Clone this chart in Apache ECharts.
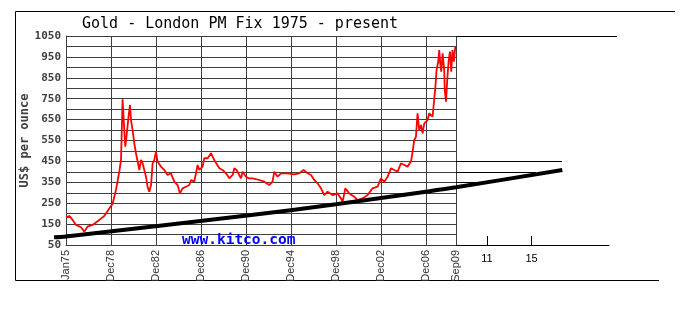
<!DOCTYPE html>
<html>
<head>
<meta charset="utf-8">
<script src="https://cdn.jsdelivr.net/npm/echarts@6/dist/echarts.min.js"></script>
<style>
  html, body { margin: 0; padding: 0; background: #fff; }
  #chart { width: 695px; height: 331px; }
</style>
</head>
<body>
<div id="chart"></div>
<script>
// London PM fix, US$ per ounce (decimal year, price)
const BASE_YEAR = 1975;
const goldYears = [
  1975.00, 1975.29, 1975.59, 1975.89, 1976.33, 1976.63, 1976.92, 1977.36, 1977.96, 1978.40,
  1978.85, 1979.14, 1979.44, 1979.74, 1979.89, 1980.03, 1980.18, 1980.27, 1980.39, 1980.56,
  1980.69, 1980.78, 1980.92, 1981.07, 1981.22, 1981.36, 1981.52, 1981.67, 1981.81, 1981.96,
  1982.11, 1982.25, 1982.40, 1982.56, 1982.70, 1982.85, 1983.00, 1983.14, 1983.44, 1983.74,
  1984.03, 1984.33, 1984.63, 1984.92, 1985.13, 1985.36, 1985.67, 1985.96, 1986.11, 1986.40,
  1986.70, 1986.85, 1987.14, 1987.29, 1987.59, 1987.89, 1988.03, 1988.18, 1988.33, 1988.63,
  1988.92, 1989.22, 1989.52, 1989.81, 1989.96, 1990.16, 1990.40, 1990.56, 1990.70, 1991.00,
  1991.23, 1991.59, 1992.18, 1992.63, 1993.07, 1993.36, 1993.52, 1993.81, 1994.11, 1994.70,
  1995.29, 1995.74, 1996.12, 1996.48, 1996.78, 1997.07, 1997.36, 1997.67, 1997.96, 1998.25,
  1998.70, 1999.14, 1999.44, 1999.59, 1999.83, 2000.18, 2000.63, 2000.92, 2001.36, 2001.81,
  2002.25, 2002.70, 2003.00, 2003.29, 2003.59, 2003.89, 2004.18, 2004.48, 2004.78, 2005.07,
  2005.36, 2005.67, 2005.81, 2005.96, 2006.11, 2006.25, 2006.40, 2006.56, 2006.70, 2006.85,
  2007.14, 2007.29, 2007.44, 2007.59, 2007.74, 2007.83, 2007.94, 2008.09, 2008.18, 2008.27,
  2008.36, 2008.48, 2008.62, 2008.67, 2008.78, 2008.89, 2009.01, 2009.13, 2009.25, 2009.36,
  2009.48, 2009.61
];
const goldPrices = [
  182, 189, 170, 146, 135, 114, 138, 146, 170, 189,
  225, 246, 313, 401, 457, 747, 600, 520, 576, 664,
  720, 648, 600, 537, 489, 481, 409, 457, 441, 409,
  377, 329, 305, 337, 441, 457, 496, 449, 425, 409,
  385, 393, 353, 337, 297, 321, 329, 337, 361, 353,
  433, 409, 425, 465, 465, 489, 473, 457, 465, 417,
  409, 393, 369, 385, 417, 409, 385, 369, 401, 377,
  369, 369, 361, 353, 337, 353, 401, 377, 393, 393,
  388, 393, 409, 393, 385, 361, 345, 321, 289, 305,
  289, 297, 273, 257, 321, 297, 281, 265, 273, 289,
  321, 329, 369, 353, 377, 417, 409, 401, 441, 433,
  425, 449, 496, 552, 568, 680, 600, 624, 584, 632,
  648, 680, 672, 664, 752, 800, 887, 927, 983, 919,
  879, 967, 887, 791, 736, 839, 927, 975, 879, 983,
  927, 999
];

// long-run trend line
const trendYears = [1973.94, 1975.00, 1991.29, 1999.00, 2007.00, 2009.67, 2019.12];
const trendPrices = [87, 91, 192, 245, 305, 326, 409];

// axis labels
const xTickLabels = ['Jan75', 'Dec78', 'Dec82', 'Dec86', 'Dec90', 'Dec94', 'Dec98', 'Dec02', 'Dec06', 'Sep09'];
const lastFixYear = 2009.67;
const futureTickYears = [2012.42, 2016.39];
const futureTickLabels = ['11', '15'];
const priceMin = 50, priceMax = 1050, priceStep = 50;

// guide lines running past the last fix
const guideLevels = [1050, 450, 400, 350, 50];
const guideEndYears = [2023.98, 2019.09, 2016.78, 2011.38, 2023.30];
const outerStartYear = 1973.94;
const outerEndYear = 2023.98;

const GRID_COLOR = '#3f3f3f';
const PX_PER_YEAR = 390 / (lastFixYear - BASE_YEAR);
const toOffset = y => +(y - BASE_YEAR).toFixed(3);

const goldData = goldYears.map((y, i) => [toOffset(y), goldPrices[i]]);
const trendData = trendYears.map((y, i) => [toOffset(y), trendPrices[i]]);
const guideData = guideLevels.map((v, i) => [
  { coord: [toOffset(lastFixYear), v] },
  { coord: [toOffset(guideEndYears[i]), v] }
]);
const futureTicks = futureTickYears.map(toOffset);

// the outer grid shares the same year scale, reaching a little further both ways
const outerLeft = 66 + (outerStartYear - BASE_YEAR) * PX_PER_YEAR;
const outerWidth = (outerEndYear - outerStartYear) * PX_PER_YEAR;

const chart = echarts.init(document.getElementById('chart'), null, { renderer: 'canvas' });

chart.setOption({
  animation: false,
  backgroundColor: '#ffffff',
  title: {
    text: 'Gold - London PM Fix 1975 - present',
    left: 82,
    top: 17,
    padding: 0,
    textStyle: { fontFamily: 'DejaVu Sans Mono', fontSize: 15, fontWeight: 'normal', color: '#000' }
  },
  grid: [
    { left: 66, top: 36, width: 390, height: 209 },
    { left: outerLeft, top: 36, width: outerWidth, height: 209 }
  ],
  xAxis: [
    {
      type: 'value', gridIndex: 0,
      min: 0, max: toOffset(lastFixYear), interval: 4,
      axisLine: { show: true, lineStyle: { color: GRID_COLOR, width: 1 } },
      axisTick: { show: false },
      splitLine: { show: true, lineStyle: { color: GRID_COLOR, width: 1 } },
      axisLabel: {
        rotate: 90, margin: 5,
        fontFamily: 'Liberation Sans', fontSize: 11, color: '#333',
        formatter: (v, i) => xTickLabels[i] || ''
      }
    },
    {
      type: 'value', gridIndex: 1,
      min: toOffset(outerStartYear), max: toOffset(outerEndYear),
      axisLine: { show: false },
      splitLine: { show: false },
      axisTick: {
        show: true, inside: true, length: 9, customValues: futureTicks,
        lineStyle: { color: '#000', width: 1 }
      },
      axisLabel: {
        show: true, margin: 8, customValues: futureTicks,
        fontFamily: 'Liberation Sans', fontSize: 11, color: '#000',
        formatter: v => {
          const i = futureTicks.findIndex(t => Math.abs(t - v) < 1e-6);
          return i >= 0 ? futureTickLabels[i] : '';
        }
      }
    }
  ],
  yAxis: [
    {
      type: 'value', gridIndex: 0,
      min: priceMin, max: priceMax, interval: priceStep,
      name: 'US$ per ounce',
      nameLocation: 'middle', nameGap: 35, nameMoveOverlap: false,
      nameTextStyle: { fontFamily: 'DejaVu Sans Mono', fontSize: 12, fontWeight: 'bold', color: '#404040' },
      axisLine: { show: true, lineStyle: { color: GRID_COLOR, width: 1 } },
      axisTick: { show: false },
      splitLine: { show: true, lineStyle: { color: GRID_COLOR, width: 1 } },
      axisLabel: {
        margin: 5,
        fontFamily: 'DejaVu Sans Mono', fontSize: 11, fontWeight: 'bold', color: '#404040',
        formatter: v => ((v - priceMin) % (2 * priceStep) === 0 ? String(v) : '')
      }
    },
    {
      type: 'value', gridIndex: 1,
      min: priceMin, max: priceMax, show: false
    }
  ],
  series: [
    {
      name: 'PM fix', type: 'line',
      xAxisIndex: 0, yAxisIndex: 0,
      data: goldData,
      showSymbol: false, symbol: 'none',
      lineStyle: { color: '#ff0000', width: 1.8 },
      z: 3
    },
    {
      name: 'trend', type: 'line',
      xAxisIndex: 1, yAxisIndex: 1,
      data: trendData,
      showSymbol: false, symbol: 'none',
      smooth: 0.3,
      lineStyle: { color: '#000', width: 4 },
      z: 4
    },
    {
      name: 'guides', type: 'line',
      xAxisIndex: 1, yAxisIndex: 1,
      data: [],
      markLine: {
        silent: true, symbol: 'none',
        label: { show: false },
        lineStyle: { color: '#000', width: 1, type: 'solid' },
        data: guideData
      },
      z: 2
    }
  ],
  graphic: [
    // outer frame
    { type: 'line', shape: { x1: 15.5, y1: 11.5, x2: 675, y2: 11.5 }, style: { stroke: '#000', lineWidth: 1 }, silent: true },
    { type: 'line', shape: { x1: 15.5, y1: 11.5, x2: 15.5, y2: 280.5 }, style: { stroke: '#000', lineWidth: 1 }, silent: true },
    { type: 'line', shape: { x1: 15.5, y1: 280.5, x2: 659, y2: 280.5 }, style: { stroke: '#000', lineWidth: 1 }, silent: true },
    {
      type: 'text', left: 182, top: 233, z: 10, silent: true,
      style: { text: 'www.kitco.com', fill: '#0000ff', font: 'bold 14.5px "DejaVu Sans Mono"' }
    }
  ]
});
</script>
</body>
</html>
